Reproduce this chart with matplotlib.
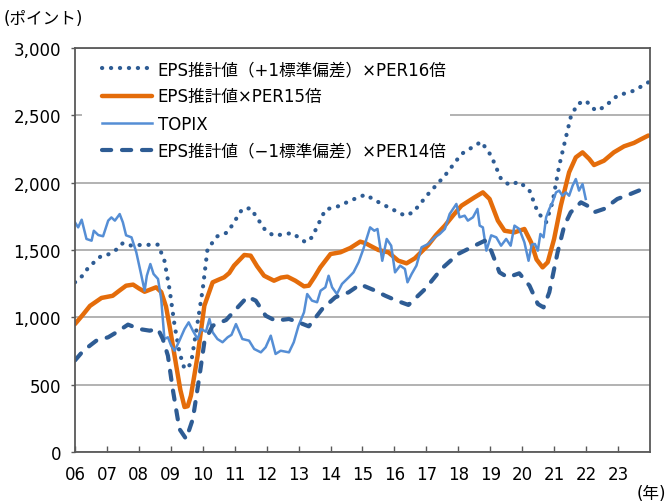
import matplotlib
matplotlib.use("Agg")
import matplotlib.pyplot as plt
from matplotlib.patches import Rectangle
from matplotlib.ticker import FuncFormatter

plt.rcParams["font.family"] = ["DejaVu Sans", "Noto Sans CJK JP"]

# decimal-year positions and values
per15_t = [2006.00, 2006.25, 2006.47, 2006.83, 2007.18, 2007.40, 2007.60, 2007.82, 2008.00, 2008.18,
           2008.54, 2008.70, 2008.85, 2008.96, 2009.17, 2009.30, 2009.43, 2009.53, 2009.63, 2009.84,
           2010.05, 2010.31, 2010.50, 2010.67, 2010.83, 2010.98, 2011.30, 2011.50, 2011.70, 2011.92,
           2012.23, 2012.45, 2012.65, 2012.90, 2013.17, 2013.32, 2013.50, 2013.68, 2014.00, 2014.31,
           2014.62, 2014.93, 2015.10, 2015.24, 2015.50, 2015.81, 2016.12, 2016.38, 2016.64, 2017.06,
           2017.30, 2017.58, 2017.85, 2018.10, 2018.51, 2018.77, 2018.98, 2019.24, 2019.45, 2019.76,
           2020.07, 2020.28, 2020.45, 2020.64, 2020.80, 2021.00, 2021.21, 2021.47, 2021.68, 2021.89,
           2022.10, 2022.25, 2022.56, 2022.87, 2023.19, 2023.50, 2023.70, 2023.95]
per15_v = [950, 1020, 1085, 1144, 1160, 1200, 1235, 1243, 1215, 1190,
           1223, 1188, 1080, 938, 641, 460, 334, 340, 418, 715,
           1086, 1260, 1280, 1297, 1329, 1384, 1463, 1458, 1380, 1309,
           1272, 1295, 1302, 1272, 1230, 1235, 1300, 1371, 1470, 1483,
           1515, 1562, 1550, 1532, 1500, 1483, 1421, 1401, 1438, 1537,
           1610, 1681, 1760, 1829, 1891, 1928, 1879, 1718, 1643, 1631,
           1656, 1557, 1430, 1371, 1409, 1582, 1829, 2077, 2188, 2225,
           2176, 2131, 2163, 2225, 2270, 2295, 2320, 2350]

per16_t = [2006.00, 2006.26, 2006.42, 2006.83, 2007.09, 2007.35, 2007.50, 2007.77, 2008.02, 2008.60,
           2008.80, 2008.96, 2009.12, 2009.27, 2009.43, 2009.63, 2009.84, 2010.00, 2010.15, 2010.46,
           2010.78, 2011.24, 2011.50, 2011.97, 2012.23, 2012.80, 2013.22, 2013.42, 2013.84, 2014.31,
           2014.57, 2015.09, 2015.55, 2016.33, 2016.59, 2017.06, 2017.58, 2018.10, 2018.72, 2019.03,
           2019.34, 2019.60, 2019.91, 2020.23, 2020.49, 2020.75, 2020.95, 2021.16, 2021.37, 2021.52,
           2021.73, 2021.99, 2022.30, 2022.56, 2022.98, 2023.50, 2023.95]
per16_v = [1260, 1314, 1371, 1458, 1470, 1512, 1552, 1532, 1537, 1540,
           1421, 1210, 938, 740, 616, 653, 963, 1210, 1508, 1602,
           1631, 1805, 1810, 1643, 1606, 1626, 1557, 1594, 1800, 1829,
           1862, 1911, 1849, 1755, 1780, 1916, 2052, 2213, 2304, 2200,
           2027, 1983, 2007, 1941, 1780, 1706, 1854, 2126, 2337, 2486,
           2584, 2609, 2535, 2560, 2646, 2683, 2745]

per14_t = [2006.00, 2006.26, 2006.67, 2007.04, 2007.30, 2007.66, 2008.02, 2008.34, 2008.60, 2008.75,
           2008.91, 2009.06, 2009.27, 2009.48, 2009.69, 2009.90, 2010.05, 2010.31, 2010.73, 2011.14,
           2011.40, 2011.66, 2011.97, 2012.28, 2012.70, 2013.00, 2013.32, 2013.74, 2014.15, 2014.57,
           2014.93, 2015.40, 2015.71, 2016.07, 2016.44, 2016.96, 2017.47, 2017.99, 2018.51, 2018.83,
           2019.03, 2019.29, 2019.55, 2019.91, 2020.23, 2020.49, 2020.67, 2020.85, 2021.11, 2021.32,
           2021.52, 2021.84, 2022.04, 2022.25, 2022.56, 2022.98, 2023.39, 2023.95]
per14_v = [680, 752, 827, 852, 889, 946, 913, 901, 913, 839,
           715, 468, 171, 97, 245, 567, 815, 938, 980, 1086,
           1153, 1124, 1012, 975, 988, 963, 933, 1062, 1149, 1186,
           1245, 1198, 1161, 1124, 1092, 1210, 1359, 1470, 1532, 1569,
           1495, 1334, 1297, 1327, 1235, 1099, 1074, 1186, 1483, 1681,
           1780, 1854, 1829, 1780, 1805, 1879, 1916, 1970]

topix_t = [2006.00, 2006.10, 2006.21, 2006.36, 2006.52, 2006.59, 2006.73, 2006.88, 2007.04, 2007.14,
           2007.25, 2007.40, 2007.50, 2007.60, 2007.77, 2007.92, 2008.08, 2008.18, 2008.25, 2008.36,
           2008.46, 2008.60, 2008.70, 2008.80, 2008.91, 2009.01, 2009.12, 2009.27, 2009.43, 2009.56,
           2009.69, 2009.84, 2009.95, 2010.10, 2010.21, 2010.31, 2010.46, 2010.62, 2010.78, 2010.90,
           2011.04, 2011.24, 2011.45, 2011.61, 2011.82, 2011.97, 2012.13, 2012.28, 2012.44, 2012.70,
           2012.85, 2013.00, 2013.17, 2013.27, 2013.42, 2013.58, 2013.69, 2013.84, 2013.94, 2014.05,
           2014.20, 2014.36, 2014.57, 2014.72, 2014.88, 2015.03, 2015.24, 2015.37, 2015.47, 2015.62,
           2015.76, 2015.90, 2016.02, 2016.18, 2016.33, 2016.41, 2016.54, 2016.69, 2016.85, 2017.06,
           2017.27, 2017.42, 2017.58, 2017.73, 2017.94, 2018.04, 2018.20, 2018.30, 2018.46, 2018.60,
           2018.67, 2018.77, 2018.88, 2019.03, 2019.19, 2019.34, 2019.50, 2019.64, 2019.76, 2019.91,
           2020.07, 2020.20, 2020.30, 2020.40, 2020.49, 2020.57, 2020.67, 2020.75, 2020.85, 2020.95,
           2021.06, 2021.16, 2021.26, 2021.37, 2021.47, 2021.58, 2021.68, 2021.78, 2021.89, 2021.99]
topix_v = [1705, 1668, 1725, 1582, 1569, 1643, 1611, 1602, 1718, 1742,
           1718, 1767, 1705, 1609, 1594, 1483, 1309, 1198, 1309, 1396,
           1322, 1285, 1136, 839, 852, 790, 752, 827, 913, 963,
           901, 839, 913, 893, 988, 889, 839, 815, 852, 870,
           950, 839, 827, 765, 740, 778, 864, 728, 752, 740,
           815, 938, 1037, 1173, 1124, 1112, 1198, 1223, 1309, 1223,
           1173, 1248, 1297, 1334, 1409, 1508, 1668, 1643, 1656, 1420,
           1582, 1532, 1334, 1384, 1359, 1260, 1322, 1384, 1520, 1545,
           1594, 1619, 1656, 1767, 1842, 1743, 1755, 1718, 1743, 1805,
           1681, 1668, 1495, 1609, 1594, 1532, 1582, 1532, 1681, 1656,
           1557, 1420, 1540, 1545, 1495, 1619, 1594, 1743, 1805, 1854,
           1928, 1941, 1903, 1928, 1903, 1978, 2027, 1941, 1990, 1879]

years = list(range(2006, 2024))
year_labels = [f"{y % 100:02d}" for y in years]

DARK_BLUE = "#2E5C94"
ORANGE = "#E46C0A"
LIGHT_BLUE = "#558ED5"

fig = plt.figure(figsize=(6.67, 5.02), dpi=100)
ax = fig.add_axes([0.1124, 0.0976, 0.862, 0.8048])

ax.plot(per16_t, per16_v, color=DARK_BLUE, lw=3.0, linestyle=(0, (0.05, 2.1)),
        dash_capstyle="round", label="EPS推計値（+1標準偏差）×PER16倍")
ax.plot(per15_t, per15_v, color=ORANGE, lw=3.2, solid_capstyle="round",
        label="EPS推計値×PER15倍")
ax.plot(topix_t, topix_v, color=LIGHT_BLUE, lw=1.8, label="TOPIX")
ax.plot(per14_t, per14_v, color=DARK_BLUE, lw=3.0, linestyle=(0, (2.2, 2.6)),
        dash_capstyle="round", label="EPS推計値（−1標準偏差）×PER14倍")

ax.set_xlim(2006, 2024)
ax.set_ylim(0, 3000)
ax.set_yticks(range(0, 3001, 500))
ax.yaxis.set_major_formatter(FuncFormatter(lambda v, _: f"{int(v):,}"))
ax.set_xticks(years)
ax.set_xticklabels(year_labels)
ax.tick_params(axis="x", direction="in", length=4, width=1, color="#595959",
               labelsize=12, pad=9)
ax.tick_params(axis="y", direction="out", length=3, width=1, color="#595959",
               labelsize=12, pad=7)
ax.grid(axis="y", color="#A6A6A6", lw=1.2)
ax.set_axisbelow(True)
for s in ax.spines.values():
    s.set_color("#595959")
    s.set_linewidth(1.3)

# white block behind the legend hides the 2,500 gridline like the original
ax.add_patch(Rectangle((0.012, 0.71), 0.64, 0.28, transform=ax.transAxes,
                       facecolor="white", edgecolor="none", zorder=1))

ax.legend(loc="upper left", bbox_to_anchor=(0.038, 0.982), borderaxespad=0,
          frameon=False, fontsize=12, handlelength=3.0, handletextpad=0.35,
          labelspacing=0.55, borderpad=0.3)

fig.text(0.006, 0.962, "(ポイント)", fontsize=12, ha="left", va="center")
fig.text(0.998, 0.016, "(年)", fontsize=12, ha="right", va="center")

fig.savefig("out.png", dpi=100)
